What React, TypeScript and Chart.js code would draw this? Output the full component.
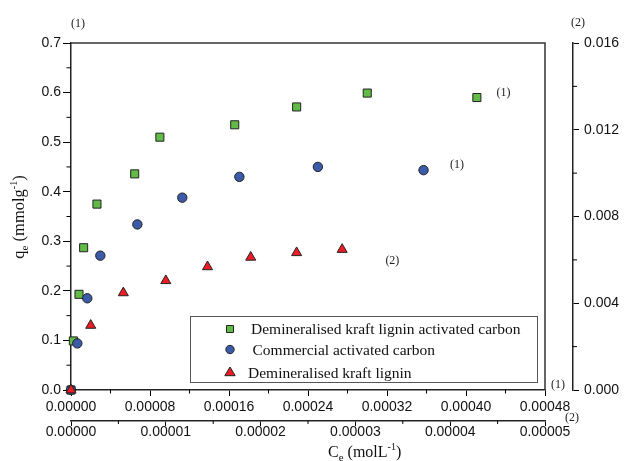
import React, { useEffect, useRef } from 'react';
import { Chart, registerables } from 'chart.js';

Chart.register(...registerables);

// ---- data ----
const seriesLabels = [
  'Demineralised kraft lignin activated carbon',
  'Commercial activated carbon',
  'Demineralised kraft lignin',
];

// series (1): Ce on top x-axis (0..0.00048), qe on left y-axis
const greenX = [0, 0.0000024, 0.0000081, 0.0000128, 0.0000263, 0.0000645, 0.00009, 0.0001658, 0.0002285, 0.0003, 0.000411];
const greenY = [0, 0.099, 0.193, 0.287, 0.375, 0.436, 0.51, 0.535, 0.571, 0.599, 0.59];

const blueX = [0, 0.0000064, 0.0000165, 0.0000297, 0.0000672, 0.0001127, 0.0001705, 0.00025, 0.000357];
const blueY = [0, 0.094, 0.185, 0.271, 0.334, 0.388, 0.43, 0.45, 0.4435];

// series (2): Ce on bottom x-axis (0..0.00005), qe on right y-axis
const redX = [0, 0.00000208, 0.00000552, 0.00001, 0.0000144, 0.00001896, 0.0000238, 0.0000286];
const redY = [0, 0.00298, 0.00448, 0.00504, 0.00568, 0.00612, 0.00633, 0.00648];

// tick values
const xTopTicks = [0, 0.00008, 0.00016, 0.00024, 0.00032, 0.0004, 0.00048];
const xTopMinor = [0.00004, 0.00012, 0.0002, 0.00028, 0.00036, 0.00044];
const xBotTicks = [0, 0.00001, 0.00002, 0.00003, 0.00004, 0.00005];
const xBotMinor = [0.000005, 0.000015, 0.000025, 0.000035, 0.000045];
const yLeftTicks = [0, 0.1, 0.2, 0.3, 0.4, 0.5, 0.6, 0.7];
const yLeftMinor = [0.05, 0.15, 0.25, 0.35, 0.45, 0.55, 0.65];
const yRightTicks = [0, 0.004, 0.008, 0.012, 0.016];
const yRightMinor = [0.002, 0.006, 0.01, 0.014];

const colors = ['#62BB46', '#3B5BA9', '#ED1C24'];
const SANS = 'Liberation Sans, Arial, sans-serif';
const SERIF = 'Liberation Serif, "Times New Roman", serif';

const toPts = (xs: number[], ys: number[]) => xs.map((x, i) => ({ x, y: ys[i] }));

type Part = [string, number, number];
function richWidth(ctx: CanvasRenderingContext2D, parts: Part[]) {
  let w = 0;
  for (const [t, s] of parts) {
    ctx.font = `${s}px ${SERIF}`;
    w += ctx.measureText(t).width;
  }
  return w;
}
function drawRich(ctx: CanvasRenderingContext2D, parts: Part[], x: number, y: number) {
  let cx = x;
  ctx.textBaseline = 'alphabetic';
  ctx.textAlign = 'left';
  for (const [t, s, dy] of parts) {
    ctx.font = `${s}px ${SERIF}`;
    ctx.fillText(t, cx, y + dy);
    cx += ctx.measureText(t).width;
  }
}

const decorPlugin = {
  id: 'decor',
  afterDraw(chart: any) {
    const { ctx, chartArea: a, scales } = chart;
    ctx.save();
    // frame top/right
    ctx.strokeStyle = '#333';
    ctx.lineWidth = 1.5;
    ctx.beginPath();
    ctx.moveTo(a.left, a.top);
    ctx.lineTo(a.right, a.top);
    ctx.lineTo(a.right, a.bottom);
    ctx.stroke();

    // minor ticks
    ctx.strokeStyle = '#000';
    ctx.lineWidth = 1;
    const xs = scales.x, x2 = scales.x2, y = scales.y, y2 = scales.y2;
    ctx.beginPath();
    for (const v of xTopMinor) {
      const p = xs.getPixelForValue(v);
      ctx.moveTo(p, xs.top); ctx.lineTo(p, xs.top + 3.5);
    }
    for (const v of xBotMinor) {
      const p = x2.getPixelForValue(v);
      ctx.moveTo(p, x2.top); ctx.lineTo(p, x2.top + 3);
    }
    for (const v of yLeftMinor) {
      const p = y.getPixelForValue(v);
      ctx.moveTo(y.right, p); ctx.lineTo(y.right - 4.5, p);
    }
    for (const v of yRightMinor) {
      const p = y2.getPixelForValue(v);
      ctx.moveTo(y2.left, p); ctx.lineTo(y2.left + 4, p);
    }
    ctx.stroke();

    // legend box
    const lx = 190, ly = 316, lw = 347, lh = 66;
    ctx.strokeStyle = '#555';
    ctx.lineWidth = 1;
    ctx.strokeRect(lx + 0.5, ly + 0.5, lw, lh);
    const rowsY = [329, 349.5, 372.5];
    const textX = [251, 252.5, 248];
    chart.data.datasets.forEach((ds: any, i: number) => {
      const cy = rowsY[i];
      const mx = 230;
      ctx.fillStyle = ds.backgroundColor;
      ctx.strokeStyle = '#222';
      ctx.lineWidth = 1;
      ctx.beginPath();
      if (ds.pointStyle === 'rect') {
        ctx.rect(mx - 3.5, cy - 3.5, 7, 7);
      } else if (ds.pointStyle === 'circle') {
        ctx.arc(mx, cy, 4.2, 0, Math.PI * 2);
      } else {
        ctx.moveTo(mx, cy - 5.5);
        ctx.lineTo(mx + 5.2, cy + 3.2);
        ctx.lineTo(mx - 5.2, cy + 3.2);
        ctx.closePath();
      }
      ctx.fill();
      ctx.stroke();
      ctx.fillStyle = '#111';
      ctx.font = `15.5px ${SERIF}`;
      ctx.textBaseline = 'middle';
      ctx.textAlign = 'left';
      ctx.fillText(ds.label, textX[i], cy + 1);
    });

    // small series annotations
    ctx.fillStyle = '#222';
    ctx.font = `12px ${SERIF}`;
    ctx.textAlign = 'center';
    ctx.textBaseline = 'middle';
    ctx.fillText('(1)', y.right + 7, a.top - 19);
    ctx.fillText('(2)', y2.left + 5, a.top - 20);
    ctx.fillText('(1)', xs.getPixelForValue(0.000438), y.getPixelForValue(0.6));
    ctx.fillText('(1)', xs.getPixelForValue(0.000391), y.getPixelForValue(0.455));
    ctx.fillText('(2)', x2.getPixelForValue(0.0000339), y2.getPixelForValue(0.00595));
    ctx.fillText('(1)', a.right + 13, a.bottom - 5);
    ctx.fillText('(2)', a.right + 27, x2.top - 3);

    // axis titles
    ctx.fillStyle = '#111';
    const yParts: Part[] = [['q', 16.5, 0], ['e', 11, 4], [' (mmolg', 16.5, 0], ['-1', 10, -7], [')', 16.5, 0]];
    const yw = richWidth(ctx, yParts);
    ctx.save();
    ctx.translate(24, 217 + yw / 2);
    ctx.rotate(-Math.PI / 2);
    drawRich(ctx, yParts, 0, 0);
    ctx.restore();

    const xParts: Part[] = [['C', 16, 0], ['e', 11, 4], [' (molL', 16, 0], ['-1', 10, -7], [')', 16, 0]];
    drawRich(ctx, xParts, 328, 457);

    ctx.restore();
  },
};

export default function App() {
  const ref = useRef<HTMLCanvasElement | null>(null);

  useEffect(() => {
    if (!ref.current) return;
    const tickFont = { family: SANS, size: 14 };
    const axisGrid = (len: number) => ({
      display: true,
      drawOnChartArea: false,
      drawTicks: true,
      tickLength: len,
      color: '#000',
      tickColor: '#000',
      lineWidth: 1,
    });
    const border = { display: true, color: '#222', width: 1.5 };

    const chart = new Chart(ref.current, {
      type: 'scatter',
      data: {
        datasets: [
          {
            label: seriesLabels[0],
            data: toPts(greenX, greenY),
            xAxisID: 'x',
            yAxisID: 'y',
            order: 3,
            pointStyle: 'rect',
            pointRadius: 5.7,
            backgroundColor: colors[0],
            borderColor: '#222',
            borderWidth: 1,
            showLine: false,
            clip: false,
          },
          {
            label: seriesLabels[1],
            data: toPts(blueX, blueY),
            xAxisID: 'x',
            yAxisID: 'y',
            order: 2,
            pointStyle: 'circle',
            pointRadius: 4.7,
            backgroundColor: colors[1],
            borderColor: '#222',
            borderWidth: 1,
            showLine: false,
            clip: false,
          },
          {
            label: seriesLabels[2],
            data: toPts(redX, redY),
            xAxisID: 'x2',
            yAxisID: 'y2',
            order: 1,
            pointStyle: 'triangle',
            pointRadius: 5.8,
            backgroundColor: colors[2],
            borderColor: '#222',
            borderWidth: 1,
            showLine: false,
            clip: false,
          },
        ] as any,
      },
      options: {
        animation: false,
        responsive: true,
        maintainAspectRatio: false,
        layout: { padding: { top: 43, left: 0, right: 0, bottom: 0 } },
        plugins: {
          legend: { display: false },
          tooltip: { enabled: false },
        },
        scales: {
          x: {
            type: 'linear',
            position: 'bottom',
            weight: 0,
            min: 0,
            max: 0.00048,
            afterBuildTicks: (s: any) => { s.ticks = xTopTicks.map((v) => ({ value: v })); },
            afterFit: (s: any) => { s.height = 31; },
            ticks: {
              font: tickFont,
              color: '#111',
              padding: 3,
              autoSkip: false,
              maxRotation: 0,
              callback: (v: any) => Number(v).toFixed(5),
            },
            grid: axisGrid(6),
            border,
          },
          x2: {
            type: 'linear',
            position: 'bottom',
            weight: 1,
            min: 0,
            max: 0.00005,
            afterBuildTicks: (s: any) => { s.ticks = xBotTicks.map((v) => ({ value: v })); },
            afterFit: (s: any) => { s.height = 40; },
            ticks: {
              font: tickFont,
              color: '#111',
              padding: -2,
              autoSkip: false,
              maxRotation: 0,
              callback: (v: any) => Number(v).toFixed(5),
            },
            grid: axisGrid(5),
            border,
          },
          y: {
            type: 'linear',
            position: 'left',
            min: 0,
            max: 0.7,
            afterBuildTicks: (s: any) => { s.ticks = yLeftTicks.map((v) => ({ value: v })); },
            afterFit: (s: any) => { s.width = 71; },
            ticks: {
              font: tickFont,
              color: '#111',
              padding: 2,
              autoSkip: false,
              callback: (v: any) => Number(v).toFixed(1),
            },
            grid: axisGrid(8),
            border,
          },
          gap: {
            type: 'linear',
            position: 'right',
            weight: 0,
            min: 0,
            max: 1,
            display: true,
            afterFit: (s: any) => { s.width = 28; },
            ticks: { display: false },
            grid: { display: false, drawTicks: false },
            border: { display: false },
          },
          y2: {
            type: 'linear',
            position: 'right',
            weight: 1,
            min: 0,
            max: 0.016,
            afterBuildTicks: (s: any) => { s.ticks = yRightTicks.map((v) => ({ value: v })); },
            afterFit: (s: any) => { s.width = 51; },
            ticks: {
              font: tickFont,
              color: '#111',
              padding: 5,
              autoSkip: false,
              callback: (v: any) => Number(v).toFixed(3),
            },
            grid: axisGrid(6),
            border,
          },
        } as any,
      },
      plugins: [decorPlugin],
    });
    return () => chart.destroy();
  }, []);

  return (
    <div style={{ position: 'absolute', left: 0, top: 0, width: 624, height: 461, background: '#fff' }}>
      <canvas ref={ref} />
    </div>
  );
}
